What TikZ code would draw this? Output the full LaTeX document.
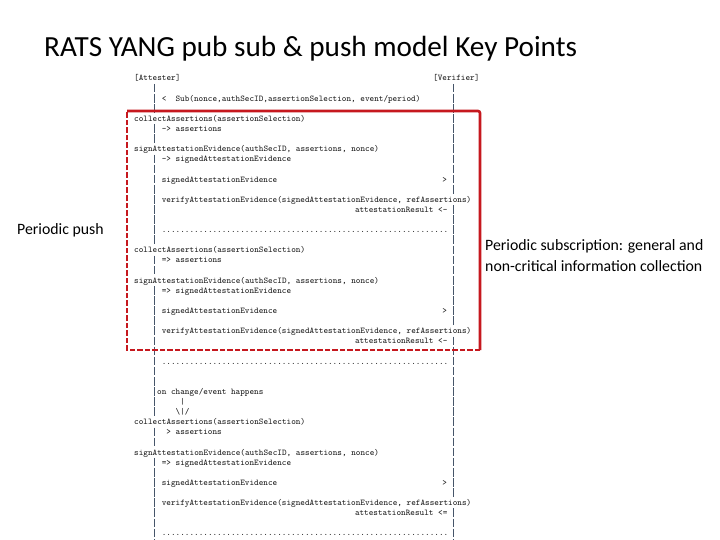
\documentclass[tikz,border=0pt]{standalone}
\usepackage{fontspec}
\newfontfamily\calfont{Carlito}
\definecolor{boxred}{RGB}{198,24,30}
\definecolor{asciicol}{RGB}{25,25,25}
\definecolor{lifecol}{RGB}{70,85,105}
\newcommand{\asciisize}{\ttfamily\fontsize{8.8}{8.8}\selectfont}
\newcommand{\At}[4]{\node[ascii] (#1) at ({134+#2*4.6},{81+#3*10.11}) {#4};}
\newcommand{\dotrow}{..............................................................}
\tikzset{
  ascii/.style={anchor=base west, inner sep=0pt, font=\asciisize, text=asciicol},
  lifeline/.style={draw=lifecol, line width=0.8pt},
  boxsolid/.style={draw=boxred, line width=2.6pt, rounded corners=2pt},
  boxdash/.style={draw=boxred, line width=2.6pt, dash pattern=on 5.5pt off 2pt},
  label/.style={anchor=base west, inner sep=0pt, font=\calfont\fontsize{15.8}{18}\selectfont, text=black},
}
\begin{document}
\begin{tikzpicture}[x=1pt,y=-1pt]
\useasboundingbox (0,0) rectangle (720,540);
\clip (0,0) rectangle (720,540);
\fill[white] (0,0) rectangle (720,540);

% title
\node[anchor=base west, inner sep=0pt, font=\calfont\fontsize{29.2}{32}\selectfont] (title) at (44,57) {RATS YANG pub sub \& push model Key Points};

% lifelines
\foreach \r in {1,2,3,5,6,8,9,...,16,18,19,21,22,...,33,35,36,38,39,...,46}
  \draw[lifeline] ({134+4*4.6+2.3},{78+\r*10.11-4.3}) -- ++(0,8.6);
\foreach \r in {1,2,...,11,13,14,...,24,26,27,...,41,43,44,45,46}
  \draw[lifeline] ({134+69*4.6+2.3},{78+\r*10.11-4.3}) -- ++(0,8.6);

% ascii text rows
\At{att}{0}{0}{[Attester]}
\At{ver}{65}{0}{[Verifier]}
\At{subarr}{6}{2}{<}
\At{sub}{9}{2}{Sub(nonce,authSecID,assertionSelection, event/period)}

\At{ca1}{0}{4}{collectAssertions(assertionSelection)}
\At{as1}{6}{5}{-> assertions}
\At{sg1}{0}{7}{signAttestationEvidence(authSecID, assertions, nonce)}
\At{se1}{6}{8}{-> signedAttestationEvidence}
\At{sv1}{6}{10}{signedAttestationEvidence}
\At{gt1}{67}{10}{>}
\At{vf1}{6}{12}{verifyAttestationEvidence(signedAttestationEvidence, refAssertions)}
\At{rs1}{48}{13}{attestationResult <-}
\At{dt1}{6}{15}{\dotrow}

\At{ca2}{0}{17}{collectAssertions(assertionSelection)}
\At{as2}{6}{18}{=> assertions}
\At{sg2}{0}{20}{signAttestationEvidence(authSecID, assertions, nonce)}
\At{se2}{6}{21}{=> signedAttestationEvidence}
\At{sv2}{6}{23}{signedAttestationEvidence}
\At{gt2}{67}{23}{>}
\At{vf2}{6}{25}{verifyAttestationEvidence(signedAttestationEvidence, refAssertions)}
\At{rs2}{48}{26}{attestationResult <-}
\At{dt2}{6}{28}{\dotrow}

\At{ev}{5}{31}{on change/event happens}
\At{evbar}{10}{32}{|}
\At{evarr}{9}{33}{\textbackslash|/}
\At{ca3}{0}{34}{collectAssertions(assertionSelection)}
\At{as3}{7}{35}{> assertions}
\At{sg3}{0}{37}{signAttestationEvidence(authSecID, assertions, nonce)}
\At{se3}{6}{38}{=> signedAttestationEvidence}
\At{sv3}{6}{40}{signedAttestationEvidence}
\At{gt3}{67}{40}{>}
\At{vf3}{6}{42}{verifyAttestationEvidence(signedAttestationEvidence, refAssertions)}
\At{rs3}{48}{43}{attestationResult <=}
\At{dt3}{6}{45}{\dotrow}

% red highlight box
\draw[boxsolid] (127,111) -- (480,111) -- (480,350);
\draw[boxdash] (480,350) -- (127,350) -- (127,111);

% side labels
\node[label] (push) at (17,235) {Periodic push};
\node[label] (subs1) at (485,251) {Periodic subscription: general and};
\node[label] (subs2) at (485,271) {non-critical information collection};
\end{tikzpicture}
\end{document}
